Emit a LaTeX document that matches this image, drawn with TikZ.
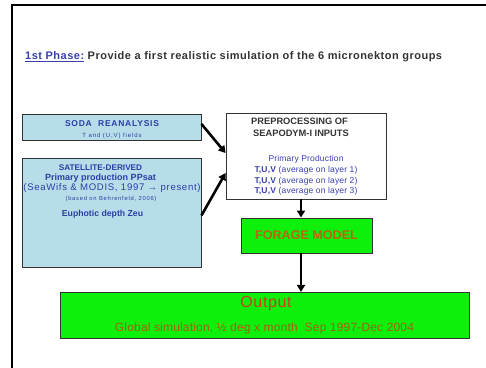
\documentclass[tikz,border=0pt]{standalone}
\usepackage{fontspec}
\setmainfont{Liberation Sans}
\usetikzlibrary{arrows.meta,positioning}

\definecolor{boxblue}{HTML}{B7DDE8}
\definecolor{lineblue}{HTML}{2A3FA6}
\definecolor{textblue}{HTML}{3A3FB0}
\definecolor{darkgray}{HTML}{333333}
\definecolor{brightgreen}{HTML}{0CF00C}
\definecolor{forageorange}{HTML}{BC6410}
\definecolor{outred}{HTML}{C8401A}
\definecolor{outbrown}{HTML}{A85E10}

% size and letter spacing
\newcommand{\fsz}[2]{\fontsize{#1}{#1}\selectfont\addfontfeature{LetterSpace=#2}}

\begin{document}
\begin{tikzpicture}[
x=1pt, y=-1pt,
box/.style={draw=darkgray, line width=0.9pt, inner sep=0pt},
inbox/.style={box, fill=boxblue},
gbox/.style={box, fill=brightgreen},
txt/.style={inner sep=0pt, align=center},
arr/.style={line width=2.6pt, -{Triangle[length=7pt, width=8pt]}}
]
\useasboundingbox (0,0) rectangle (486,367);

% slide frame
\draw[line width=1.6pt] (12,372) -- (12,5) -- (492,5);

% ---------- TITLE ----------
\node[txt, anchor=west, font=\fsz{11}{4.5}\bfseries] (title) at (25,57)
  {\textcolor{textblue}{\underline{1st Phase:}}\ \textcolor{darkgray}{Provide a first realistic simulation of the 6 micronekton groups}};

% ---------- INPUTS ----------
\node[inbox, minimum width=179pt, minimum height=26pt] (soda) at (111.5,127) {};
\node[txt, text=lineblue, font=\fsz{8.5}{9}\bfseries] (sodatext) at (112,124) {SODA\ \ REANALYSIS};
\node[txt, text=lineblue, font=\fsz{6}{15}] (sodafields) at (112,135.5) {T and (U,V) fields};

\node[inbox, minimum width=179pt, minimum height=109pt] (sat) at (111.5,212.5) {};
\node[txt, text=lineblue, font=\fsz{8.2}{0}\bfseries] (sattext) at (100.5,168) {SATELLITE-DERIVED};
\node[txt, text=lineblue, font=\fsz{9}{0}\bfseries] (satpp) at (100.5,178) {Primary production PPsat};
\node[txt, text=lineblue, font=\fsz{9.6}{7}] (satsrc) at (112,188) {(SeaWifs \& MODIS, 1997 → present)};
\node[txt, text=lineblue, font=\fsz{5.8}{13}] (satref) at (111,199) {(based on Behrenfeld, 2006)};
\node[txt, text=lineblue, font=\fsz{8.7}{0}\bfseries] (satzeu) at (102.5,214) {Euphotic depth Zeu};

% ---------- PREPROCESSING ----------
\node[box, fill=white, minimum width=160pt, minimum height=86pt] (prep) at (306,156) {};
\node[txt, text=darkgray, font=\fsz{9.3}{0}\bfseries] (preptitle) at (299.5,121) {PREPROCESSING OF};
\node[txt, text=darkgray, font=\fsz{9.3}{0}\bfseries] (prepsub) at (301,133) {SEAPODYM-I INPUTS};
\node[txt, text=textblue, font=\fsz{8.5}{2}] (prepbody) at (306,175.5) {Primary Production\\[2.2pt]
  \textbf{T,U,V} (average on layer 1)\\[2.2pt]
  \textbf{T,U,V} (average on layer 2)\\[2.2pt]
  \textbf{T,U,V} (average on layer 3)};

% ---------- FORAGE ----------
\node[gbox, minimum width=131pt, minimum height=35pt, text=forageorange, font=\fsz{12.6}{0}\bfseries] (forage) at (306.5,235.5) {FORAGE MODEL};

% ---------- OUTPUT ----------
\node[gbox, minimum width=409pt, minimum height=46pt] (output) at (264.5,315) {};
\node[txt, text=outred, font=\fsz{16}{4}] (outtitle) at (266,304) {Output};
\node[txt, text=outbrown, font=\fsz{12}{1.5}] (outtext) at (264.5,328) {Global simulation, ½ deg x month\ \ Sep 1997-Dec 2004};

% connections
\draw[arr] ([yshift=3pt]soda.east) -- ([yshift=3pt]prep.west);
\draw[arr] ([yshift=-3pt]sat.east) -- ([yshift=-17pt]prep.west);
\draw[arr] ([xshift=-5pt]prep.south) -- ([xshift=-5.5pt]forage.north);
\draw[arr] ([xshift=-5.5pt]forage.south) -- ([xshift=-5.5pt, yshift=-0.4pt]forage.south |- output.north);

\end{tikzpicture}
\end{document}
